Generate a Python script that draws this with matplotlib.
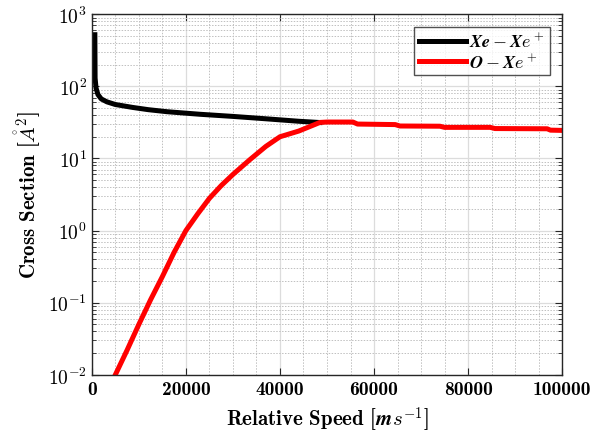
import numpy as np
import matplotlib
matplotlib.use('Agg')
import matplotlib.pyplot as plt
from matplotlib.ticker import FixedLocator, FuncFormatter, LogLocator, MultipleLocator

plt.rcParams['mathtext.fontset'] = 'cm'
plt.rcParams['font.family'] = ['cmb10', 'DejaVu Serif']
plt.rcParams['axes.unicode_minus'] = False

# Xe - Xe+ cross section
speed_xe = [650, 700, 900, 1300, 2000, 3200, 5000, 8700, 12000, 16000, 23000,
            30000, 37000, 44000, 48500]
sigma_xe = [520, 130, 95, 77, 67, 61, 56, 51, 47.5, 44.5, 41, 38.3, 35.5, 32.8, 31.5]

# O - Xe+ cross section
speed_o = [5000, 7500, 10000, 12500, 15000, 17500, 20000, 22500, 25000, 27500,
           30000, 33500, 37000, 40000, 44000, 48500, 50000, 55500, 56500,
           64500, 65500, 74000, 75000, 84700, 85700, 96800, 97500, 100000]
sigma_o = [0.01, 0.022, 0.05, 0.11, 0.23, 0.5, 1.0, 1.7, 2.8, 4.2,
           6.0, 9.5, 14.7, 20, 24, 31.6, 32, 32, 30,
           29.5, 28.2, 28, 27, 27, 26, 25.8, 24.7, 24.5]

labels = [r'$\boldsymbol{Xe-Xe^+}$', r'$\boldsymbol{O-Xe^+}$']
x_ticks = [0, 20000, 40000, 60000, 80000, 100000]

fig = plt.figure(figsize=(6, 4.35), dpi=100)
ax = fig.add_axes([0.153, 0.136, 0.784, 0.829])

ax.plot(speed_xe, sigma_xe, color='black', lw=3.6, label=labels[0],
        solid_joinstyle='round')
ax.plot(speed_o, sigma_o, color='red', lw=3.6, label=labels[1])

ax.set_yscale('log')
ax.set_xlim(0, 100000)
ax.set_ylim(1e-2, 1e3)
ax.xaxis.set_major_locator(FixedLocator(x_ticks))
ax.xaxis.set_minor_locator(MultipleLocator(5000))
ax.xaxis.set_major_formatter(FuncFormatter(lambda v, p: f'{int(v)}'))
ax.yaxis.set_major_locator(LogLocator(base=10, numticks=10))
ax.yaxis.set_minor_locator(LogLocator(base=10, subs=np.arange(2, 10), numticks=20))
ax.yaxis.set_major_formatter(FuncFormatter(
    lambda v, p: r'$\mathbf{10^{%d}}$' % int(round(np.log10(v)))))

ax.grid(True, which='major', color='#dcdcdc', lw=0.9, ls='-')
ax.grid(True, which='minor', color='#c0c0c0', lw=0.7, ls=(0, (1.5, 1.5)))
ax.set_axisbelow(True)

ax.tick_params(which='both', direction='in', top=True, right=True,
               colors='#262626', labelcolor='black', labelsize=14)
ax.tick_params(which='major', length=5)
ax.tick_params(which='minor', length=3)
ax.tick_params(axis='x', which='minor', length=0)
for s in ax.spines.values():
    s.set_color('#262626')
    s.set_linewidth(1.0)

ax.set_xlabel(r'Relative Speed [$\boldsymbol{ms^{-1}}$]', fontsize=15, labelpad=5)
ax.set_ylabel(r'Cross Section [$\boldsymbol{\mathring{A}^2}$]', fontsize=15)

leg = ax.legend(loc='upper right', fontsize=13, frameon=True, fancybox=False,
                edgecolor='#262626', handlelength=2.6, borderpad=0.25,
                labelspacing=0.1, handletextpad=0.2, borderaxespad=0.7)
leg.get_frame().set_linewidth(1.0)

fig.savefig('out.png', dpi=100)
